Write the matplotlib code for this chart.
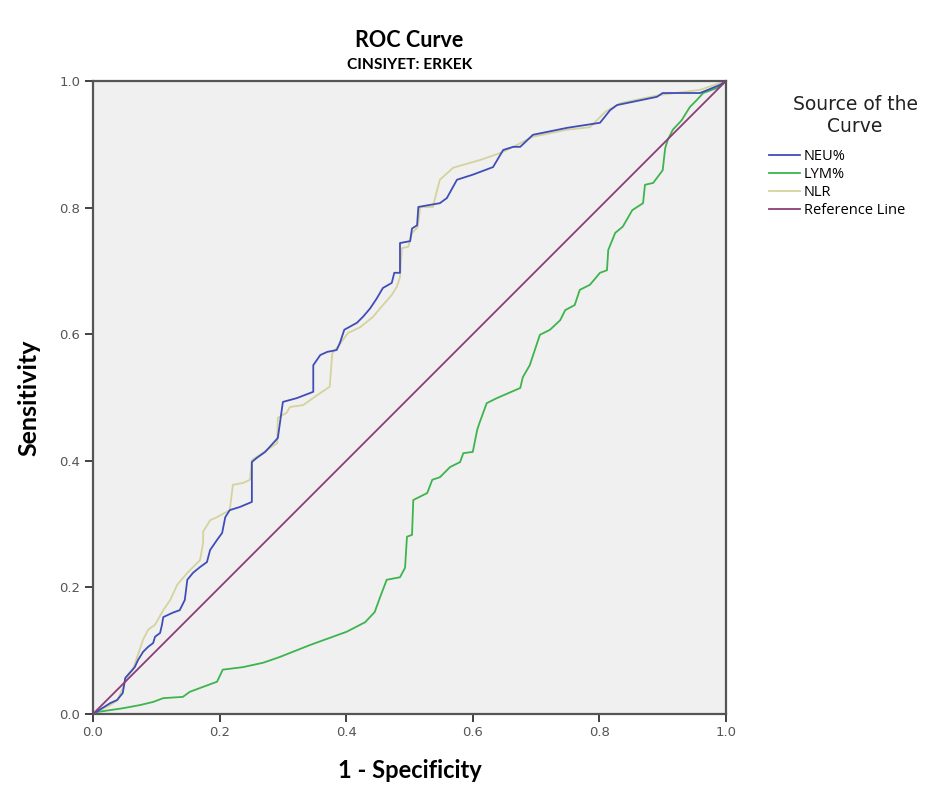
import matplotlib.pyplot as plt

# ROC curve points (x = 1 - specificity, y = sensitivity)
neu_x = [0, 0.027, 0.038, 0.047, 0.051, 0.058, 0.066, 0.071, 0.079, 0.087, 0.095, 0.098, 0.106, 0.109,
         0.111, 0.126, 0.137, 0.145, 0.149, 0.158, 0.169, 0.180, 0.185, 0.196, 0.204, 0.209, 0.216,
         0.232, 0.251, 0.251, 0.258, 0.272, 0.282, 0.292, 0.300, 0.322, 0.348, 0.348, 0.359, 0.370,
         0.385, 0.390, 0.397, 0.417, 0.427, 0.438, 0.448, 0.458, 0.472, 0.476, 0.485, 0.485, 0.501,
         0.504, 0.512, 0.514, 0.548, 0.559, 0.575, 0.600, 0.632, 0.648, 0.664, 0.675, 0.695, 0.749,
         0.801, 0.817, 0.828, 0.891, 0.900, 0.959, 0.991, 1.0]
neu_y = [0, 0.017, 0.022, 0.033, 0.057, 0.065, 0.074, 0.085, 0.098, 0.106, 0.112, 0.122, 0.128, 0.141,
         0.153, 0.160, 0.164, 0.180, 0.212, 0.223, 0.232, 0.240, 0.259, 0.275, 0.286, 0.311, 0.322,
         0.327, 0.335, 0.398, 0.404, 0.414, 0.425, 0.436, 0.493, 0.499, 0.509, 0.551, 0.567, 0.572,
         0.575, 0.586, 0.607, 0.618, 0.628, 0.641, 0.656, 0.673, 0.681, 0.697, 0.697, 0.744, 0.747,
         0.767, 0.772, 0.801, 0.807, 0.815, 0.844, 0.852, 0.864, 0.891, 0.896, 0.896, 0.915, 0.926,
         0.934, 0.954, 0.962, 0.975, 0.981, 0.981, 0.994, 1.0]

lym_x = [0, 0.006, 0.047, 0.074, 0.095, 0.111, 0.142, 0.153, 0.169, 0.196, 0.205, 0.237, 0.269, 0.295,
         0.343, 0.401, 0.430, 0.445, 0.453, 0.464, 0.485, 0.493, 0.496, 0.504, 0.506, 0.528, 0.536,
         0.548, 0.564, 0.580, 0.585, 0.600, 0.607, 0.611, 0.622, 0.638, 0.675, 0.679, 0.690, 0.698,
         0.706, 0.722, 0.738, 0.746, 0.761, 0.769, 0.785, 0.801, 0.812, 0.814, 0.825, 0.837, 0.852,
         0.869, 0.872, 0.885, 0.900, 0.904, 0.908, 0.916, 0.930, 0.943, 0.954, 0.964, 0.986, 1.0]
lym_y = [0, 0.003, 0.009, 0.014, 0.019, 0.025, 0.027, 0.035, 0.041, 0.051, 0.070, 0.074, 0.081, 0.090,
         0.109, 0.130, 0.145, 0.161, 0.183, 0.212, 0.216, 0.231, 0.280, 0.283, 0.338, 0.349, 0.370,
         0.374, 0.390, 0.398, 0.412, 0.414, 0.449, 0.461, 0.491, 0.499, 0.515, 0.532, 0.551, 0.575,
         0.599, 0.607, 0.622, 0.638, 0.646, 0.670, 0.678, 0.697, 0.701, 0.733, 0.760, 0.770, 0.796,
         0.807, 0.836, 0.839, 0.859, 0.894, 0.907, 0.923, 0.938, 0.959, 0.970, 0.981, 0.989, 1.0]

nlr_x = [0, 0.027, 0.039, 0.054, 0.063, 0.079, 0.087, 0.098, 0.111, 0.122, 0.133, 0.149, 0.169, 0.174,
         0.174, 0.185, 0.196, 0.216, 0.221, 0.237, 0.248, 0.251, 0.291, 0.292, 0.306, 0.311, 0.332,
         0.359, 0.374, 0.378, 0.385, 0.403, 0.422, 0.442, 0.458, 0.472, 0.480, 0.485, 0.488, 0.498,
         0.504, 0.513, 0.517, 0.537, 0.543, 0.548, 0.569, 0.611, 0.643, 0.664, 0.695, 0.749, 0.785,
         0.809, 0.833, 0.896, 0.959, 1.0]
nlr_y = [0, 0.014, 0.022, 0.058, 0.070, 0.117, 0.133, 0.141, 0.164, 0.180, 0.204, 0.223, 0.243, 0.270,
         0.288, 0.306, 0.311, 0.322, 0.362, 0.365, 0.370, 0.401, 0.428, 0.468, 0.476, 0.485, 0.488,
         0.507, 0.517, 0.570, 0.578, 0.602, 0.611, 0.627, 0.646, 0.662, 0.675, 0.690, 0.736, 0.738,
         0.760, 0.769, 0.801, 0.801, 0.825, 0.844, 0.863, 0.875, 0.886, 0.896, 0.912, 0.923, 0.927,
         0.951, 0.965, 0.978, 0.986, 1.0]

ref_x = [0, 1]
ref_y = [0, 1]

fig = plt.figure(figsize=(9.48, 7.98), dpi=100)
ax = fig.add_axes([0.0981, 0.1053, 0.6677, 0.7932])
ax.set_facecolor('#F0F0F0')

ax.plot(nlr_x, nlr_y, color='#D5D29E', lw=1.3, label='NLR', zorder=2)
ax.plot(lym_x, lym_y, color='#3DB44C', lw=1.3, label='LYM%', zorder=3)
ax.plot(neu_x, neu_y, color='#3F4DB8', lw=1.3, label='NEU%', zorder=4)
ax.plot(ref_x, ref_y, color='#8E3B7B', lw=1.3, label='Reference Line', zorder=5)

ax.set_xlim(0, 1)
ax.set_ylim(0, 1)
ticks = [0.0, 0.2, 0.4, 0.6, 0.8, 1.0]
ax.set_xticks(ticks)
ax.set_yticks(ticks)
ax.set_xticklabels(['%.1f' % t for t in ticks])
ax.set_yticklabels(['%.1f' % t for t in ticks])
ax.tick_params(direction='out', length=6, width=1.3, color='#333333',
               labelsize=9.5, labelcolor='#555555', pad=3)
for s in ax.spines.values():
    s.set_color('#555555')
    s.set_linewidth(1.6)

ax.set_xlabel('1 - Specificity', fontsize=17, fontweight='bold', family='Lato', labelpad=14)
ax.set_ylabel('Sensitivity', fontsize=18, fontweight='bold', family='Lato', labelpad=14)

fig.text(0.432, 0.949, 'ROC Curve', ha='center', va='center', fontsize=15.5,
         fontweight='bold', family='Lato')
fig.text(0.432, 0.918, 'CINSIYET: ERKEK', ha='center', va='center', fontsize=11.2,
         fontweight='bold', family='Lato')

# legend title drawn separately so both lines are centred
fig.text(0.902, 1 - 105 / 798, 'Source of the', ha='center', va='center',
         fontsize=13.5, color='#222222')
fig.text(0.902, 1 - 127 / 798, 'Curve', ha='center', va='center',
         fontsize=13.5, color='#222222')

h, l = ax.get_legend_handles_labels()
order = [2, 1, 0, 3]
ax.legend([h[i] for i in order], [l[i] for i in order],
          loc='upper left', bbox_to_anchor=(769 / 948, 1 - 149 / 798), bbox_transform=fig.transFigure,
          frameon=False, handlelength=2.1, handletextpad=0.3, borderpad=0, borderaxespad=0,
          labelspacing=0.2, prop={'family': 'Open Sans', 'size': 10.5})

fig.savefig('out.png', dpi=100)
